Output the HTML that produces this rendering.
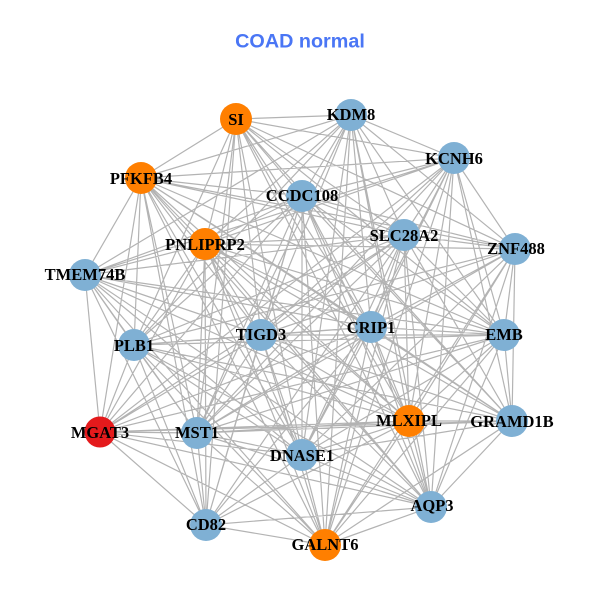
<!DOCTYPE html>
<html><head><meta charset="utf-8"><style>
html,body{margin:0;padding:0;background:#fff}
svg{display:block}
.n{font-family:"Liberation Serif",serif;font-weight:bold;font-size:16.5px;text-anchor:middle;fill:#000}
</style></head><body>
<svg width="600" height="600" viewBox="0 0 600 600" xmlns="http://www.w3.org/2000/svg">
<rect width="600" height="600" fill="#fff"/>
<text x="300" y="47.5" text-anchor="middle" style="font-family:'Liberation Sans',sans-serif;font-weight:bold;font-size:19.8px" fill="#4a76f5">COAD normal</text>
<path fill="none" stroke="#b3b3b3" stroke-width="1.2" d="
M236 119L351 115M236 119L454 158M236 119L141 178M236 119L302 196M236 119L404 235M236 119L515 249M236 119L371 327M236 119L504 335M236 119L409 421M236 119L512 421M236 119L302 455M236 119L261 335M236 119L205 244M236 119L134 345M236 119L197 433M236 119L206 525M236 119L431 507
M351 115L454 158M351 115L141 178M351 115L205 244M351 115L302 196M351 115L404 235M351 115L371 327M351 115L515 249M351 115L504 335M351 115L409 421M351 115L261 335M351 115L302 455M351 115L197 433M351 115L134 345M351 115L85 275M351 115L325 545M351 115L431 507
M454 158L515 249M454 158L302 196M454 158L404 235M454 158L371 327M454 158L504 335M454 158L409 421M454 158L512 421M454 158L431 507M454 158L261 335M454 158L302 455M454 158L205 244M454 158L141 178M454 158L85 275M454 158L197 433M454 158L100 432M454 158L325 545
M515 249L504 335M515 249L404 235M515 249L302 196M515 249L371 327M515 249L409 421M515 249L512 421M515 249L431 507M515 249L261 335M515 249L141 178M515 249L134 345M515 249L302 455M515 249L197 433M515 249L325 545M515 249L205 244
M504 335L512 421M504 335L371 327M504 335L409 421M504 335L431 507M504 335L404 235M504 335L302 196M504 335L261 335M504 335L205 244M504 335L134 345M504 335L302 455M504 335L100 432M504 335L325 545M504 335L141 178M504 335L197 433
M512 421L431 507M512 421L409 421M512 421L371 327M512 421L404 235M512 421L302 455M512 421L325 545M512 421L141 178M512 421L302 196M512 421L205 244M512 421L197 433M512 421L100 432M512 421L261 335
M431 507L325 545M431 507L409 421M431 507L371 327M431 507L302 455M431 507L206 525M431 507L205 244M431 507L261 335M431 507L302 196M431 507L100 432M431 507L197 433M431 507L141 178
M325 545L206 525M325 545L302 455M325 545L409 421M325 545L371 327M325 545L197 433M325 545L134 345M325 545L261 335M325 545L205 244M325 545L404 235M325 545L141 178M325 545L85 275M325 545L100 432
M206 525L100 432M206 525L197 433M206 525L134 345M206 525L302 455M206 525L261 335M206 525L205 244M206 525L85 275M206 525L141 178M206 525L371 327M206 525L409 421M206 525L302 196M206 525L404 235
M100 432L85 275M100 432L134 345M100 432L197 433M100 432L302 455M100 432L409 421M100 432L141 178M100 432L205 244M100 432L261 335M100 432L371 327M100 432L404 235M100 432L302 196
M85 275L141 178M85 275L134 345M85 275L205 244M85 275L261 335M85 275L302 196M85 275L404 235M85 275L371 327M85 275L197 433M85 275L302 455M85 275L409 421
M141 178L134 345M141 178L205 244M141 178L197 433M141 178L261 335M141 178L302 196M141 178L404 235M141 178L371 327M141 178L302 455M141 178L409 421
M134 345L197 433M134 345L261 335M134 345L205 244M134 345L302 196M134 345L404 235M134 345L371 327M134 345L409 421M134 345L302 455
M197 433L302 455M197 433L261 335M197 433L205 244M197 433L302 196M197 433L404 235M197 433L371 327M197 433L409 421
M302 455L261 335M302 455L302 196M302 455L404 235M302 455L371 327M302 455L409 421M302 455L205 244
M261 335L205 244M261 335L302 196M261 335L404 235M261 335L371 327M261 335L409 421
M205 244L302 196M205 244L404 235M205 244L371 327M205 244L409 421
M302 196L404 235M302 196L371 327M302 196L409 421
M404 235L371 327M404 235L409 421
M371 327L409 421
M85 275L504 335M85 275L512 421M134 345L512 421M134 345L431 507M85 275L431 507M404 235L431 507M302 196L325 545"/>
<g fill="#7fb0d4">
<circle cx="351" cy="115" r="16"/><circle cx="454" cy="158" r="16"/><circle cx="515" cy="249" r="16"/><circle cx="504" cy="335" r="16"/><circle cx="512" cy="421" r="16"/><circle cx="431" cy="507" r="16"/><circle cx="206" cy="525" r="16"/><circle cx="85" cy="275" r="16"/><circle cx="134" cy="345" r="16"/><circle cx="197" cy="433" r="16"/><circle cx="302" cy="455" r="16"/><circle cx="261" cy="335" r="16"/><circle cx="302" cy="196" r="16"/><circle cx="404" cy="235" r="16"/><circle cx="371" cy="327" r="16"/>
</g>
<g fill="#ff7f00">
<circle cx="236" cy="119" r="16"/><circle cx="141" cy="178" r="16"/><circle cx="205" cy="244" r="16"/><circle cx="409" cy="421" r="16"/><circle cx="325" cy="545" r="16"/>
</g>
<circle cx="100" cy="432" r="15.5" fill="#e41a1c"/>
<g class="lbl">
<text class="n" x="236" y="125">SI</text>
<text class="n" x="351" y="120">KDM8</text>
<text class="n" x="454" y="164">KCNH6</text>
<text class="n" x="516" y="254">ZNF488</text>
<text class="n" x="504" y="340">EMB</text>
<text class="n" x="512" y="427">GRAMD1B</text>
<text class="n" x="432" y="511">AQP3</text>
<text class="n" x="325" y="550">GALNT6</text>
<text class="n" x="206" y="530">CD82</text>
<text class="n" x="100" y="438">MGAT3</text>
<text class="n" x="85" y="280">TMEM74B</text>
<text class="n" x="141" y="184">PFKFB4</text>
<text class="n" x="134" y="351">PLB1</text>
<text class="n" x="197" y="438">MST1</text>
<text class="n" x="302" y="461">DNASE1</text>
<text class="n" x="261" y="340">TIGD3</text>
<text class="n" x="205" y="250">PNLIPRP2</text>
<text class="n" x="302" y="201">CCDC108</text>
<text class="n" x="404" y="241">SLC28A2</text>
<text class="n" x="371" y="333">CRIP1</text>
<text class="n" x="409" y="426">MLXIPL</text>
</g>
</svg>
</body></html>
